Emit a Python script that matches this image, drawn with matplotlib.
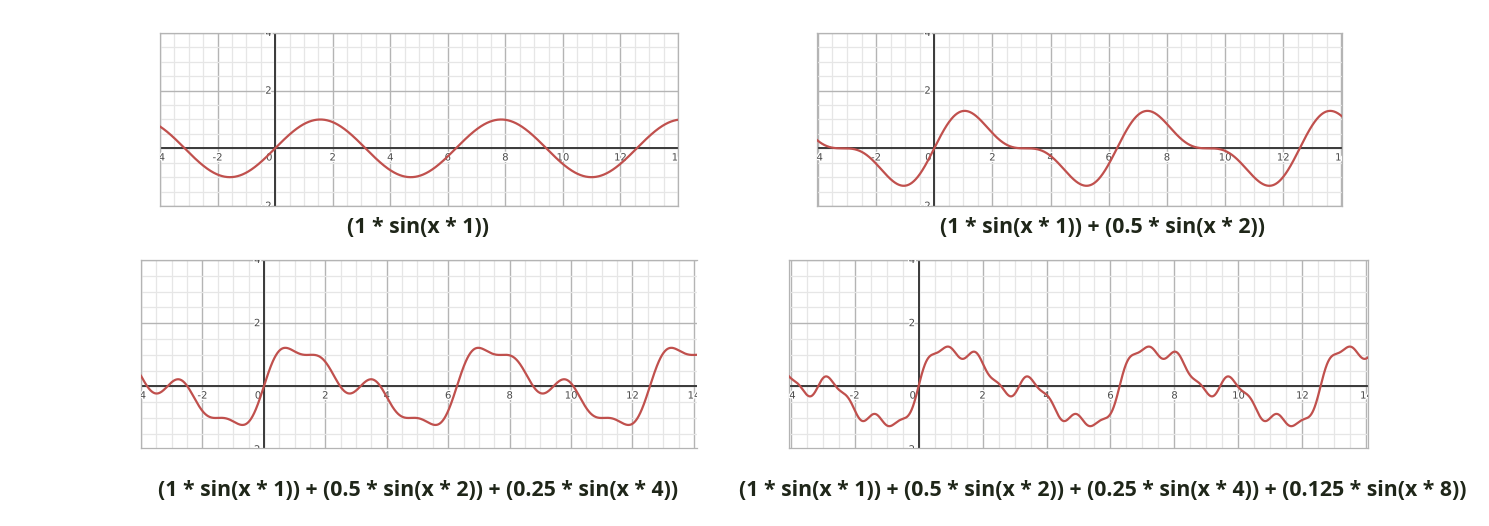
import numpy as np
import matplotlib
matplotlib.use("Agg")
import matplotlib.pyplot as plt
import matplotlib.patheffects as pe

# ---- data read from the captions ----
amplitudes = [1.0, 0.5, 0.25, 0.125]
frequencies = [1, 2, 4, 8]
captions = [
    "(1 * sin(x * 1))",
    "(1 * sin(x * 1)) + (0.5 * sin(x * 2))",
    "(1 * sin(x * 1)) + (0.5 * sin(x * 2)) + (0.25 * sin(x * 4))",
    "(1 * sin(x * 1)) + (0.5 * sin(x * 2)) + (0.25 * sin(x * 4)) + (0.125 * sin(x * 8))",
]
x_tick_values = [-4, -2, 2, 4, 6, 8, 10, 12, 14]
y_tick_values = [-2, 2, 4]

W, H = 1489, 526
fig = plt.figure(figsize=(W / 100, H / 100), dpi=100)

# panel boxes in pixels: left, top, right, bottom ; and x/y limits
panels = [
    dict(box=(160, 33, 678, 206), xlim=(-4, 14.0), ylim=(-2, 4), cap=(418, 228)),
    dict(box=(817, 33, 1342, 206), xlim=(-4.03, 14.02), ylim=(-2, 4), cap=(1103, 228)),
    dict(box=(141, 260, 697, 448), xlim=(-4, 14.1), ylim=(-1.95, 4), cap=(418, 490)),
    dict(box=(789, 260, 1368, 448), xlim=(-4.05, 14.05), ylim=(-1.95, 4), cap=(1103, 490)),
]

curve_color = "#c0504d"
major_c = "#b4b4b4"
minor_c = "#e6e6e6"
axis_c = "#3a3a3a"
label_c = "#4a4a4a"

for k, p in enumerate(panels):
    l, t, r, b = p["box"]
    ax = fig.add_axes([l / W, 1 - b / H, (r - l) / W, (b - t) / H])
    ax.set_xticks(np.arange(-4, 14.01, 2))
    ax.set_yticks(np.arange(-2, 4.01, 2))
    ax.set_xticks(np.arange(-4, 14.51, 0.5), minor=True)
    ax.set_yticks(np.arange(-2, 4.01, 0.5), minor=True)
    ax.set_xlim(*p["xlim"])
    ax.set_ylim(*p["ylim"])
    ax.grid(which="minor", color=minor_c, linewidth=0.9, zorder=0)
    ax.grid(which="major", color=major_c, linewidth=1.0, zorder=0)
    ax.set_axisbelow(True)
    ax.tick_params(which="both", length=0, labelbottom=False, labelleft=False)
    for s in ax.spines.values():
        s.set_color(major_c)
        s.set_linewidth(0.9)
    if k == 2:
        ax.spines["right"].set_visible(False)

    ax.axhline(0, color=axis_c, linewidth=1.4, zorder=2)
    ax.axvline(0, color=axis_c, linewidth=1.4, zorder=2)

    x = np.linspace(p["xlim"][0], p["xlim"][1], 2000)
    y = np.zeros_like(x)
    for a, f in zip(amplitudes[: k + 1], frequencies[: k + 1]):
        y = y + a * np.sin(x * f)
    ax.plot(x, y, color=curve_color, linewidth=1.6, zorder=4)

    halo = [pe.withStroke(linewidth=2, foreground="white")]
    for v in x_tick_values:
        ax.annotate(str(v), xy=(v, 0), xytext=(0, -3), textcoords="offset points",
                    ha="center", va="top", fontsize=7.2, color=label_c,
                    annotation_clip=False, clip_on=True, zorder=3, path_effects=halo)
    ax.annotate("0", xy=(0, 0), xytext=(-2, -3), textcoords="offset points",
                ha="right", va="top", fontsize=7.2, color=label_c,
                clip_on=True, zorder=3, path_effects=halo)
    for v in y_tick_values:
        ax.annotate(str(v), xy=(0, v), xytext=(-2.5, 0), textcoords="offset points",
                    ha="right", va="center", fontsize=7.2, color=label_c,
                    annotation_clip=False, clip_on=True, zorder=3, path_effects=halo)

    cx, cy = p["cap"]
    fig.text(cx / W, 1 - cy / H, captions[k], ha="center", va="center",
             fontsize=15.3, fontweight="bold", family="Open Sans", color="#1f2619")

fig.savefig("out.png", dpi=100, facecolor="white")
